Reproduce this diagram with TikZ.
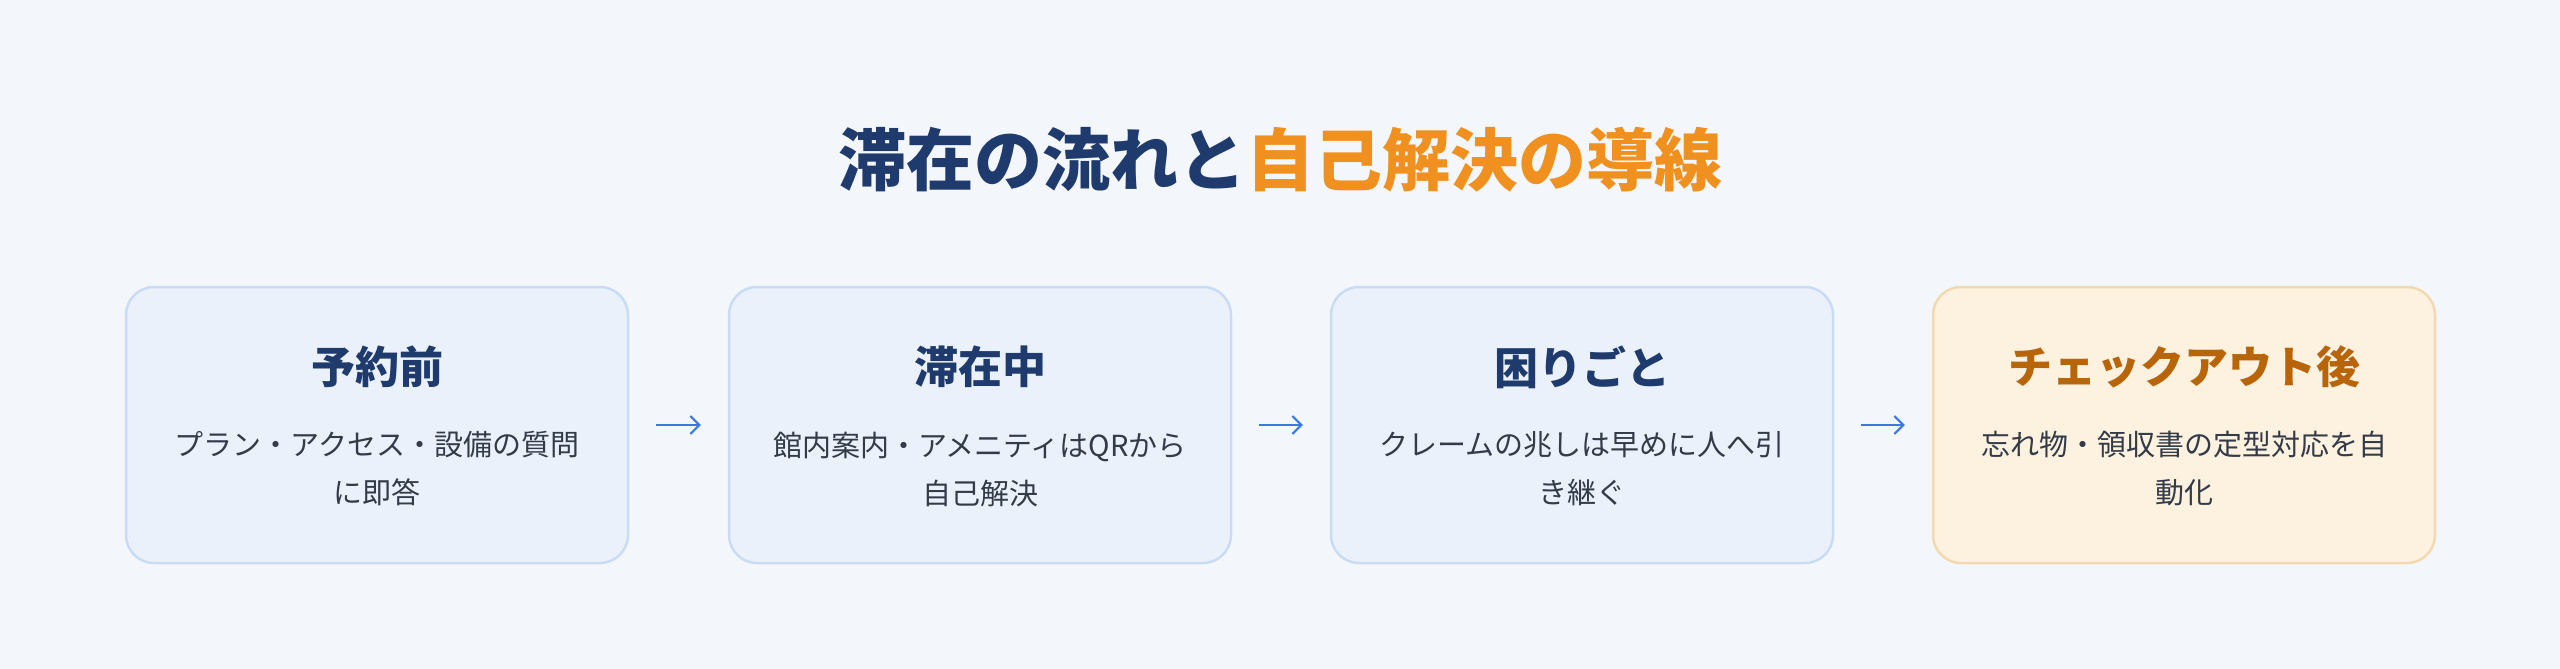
\documentclass[tikz,border=0pt]{standalone}
\usepackage{fontspec}
\setmainfont{Noto Sans CJK JP}
\usetikzlibrary{arrows.meta}
\definecolor{bgcol}{HTML}{F3F7FB}
\definecolor{navy}{HTML}{1F3B6E}
\definecolor{accent}{HTML}{F0901E}
\definecolor{boxfill}{HTML}{EAF1FB}
\definecolor{boxline}{HTML}{C9DCF3}
\definecolor{warmfill}{HTML}{FDF1E0}
\definecolor{warmline}{HTML}{F3D9B0}
\definecolor{warmtext}{HTML}{B8650A}
\definecolor{bodytext}{HTML}{333B48}
\definecolor{arrowcol}{HTML}{3B78E0}
\begin{document}
\begin{tikzpicture}[x=1pt,y=-1pt]

        \fill[bgcol] (0,0) rectangle (2560,669);
        \useasboundingbox (0,0) rectangle (2560,669);

        \node (title) at (1280,160) {\fontsize{68}{74}\selectfont\bfseries
          \textcolor{navy}{滞在の流れと}\textcolor{accent}{自己解決の導線}};

        \begin{scope}[every node/.style={draw=boxline, fill=boxfill, line width=2.5pt,
            rounded corners=28pt, minimum width=502pt, minimum height=276pt}]
          \node (b1) at (377,425)  {};
          \node (b2) at (980,425)  {};
          \node (b3) at (1582,425) {};
          \node[draw=warmline, fill=warmfill] (b4) at (2184,425) {};
        \end{scope}

        \begin{scope}[every node/.style={text=navy, font=\fontsize{44}{50}\selectfont\bfseries}]
          \node (h1) at (377,367)  {予約前};
          \node (h2) at (980,367)  {滞在中};
          \node (h3) at (1582,367) {困りごと};
          \node[text=warmtext] (h4) at (2184,367) {チェックアウト後};
        \end{scope}

        \begin{scope}[every node/.style={text=bodytext, align=center,
            font=\fontsize{29}{48}\selectfont}]
          \node (t1) at (377,469)  {プラン・アクセス・設備の質問\\に即答};
          \node (t2) at (980,469)  {館内案内・アメニティはQRから\\自己解決};
          \node (t3) at (1582,469) {クレームの兆しは早めに人へ引\\き継ぐ};
          \node (t4) at (2184,469) {忘れ物・領収書の定型対応を自\\動化};
        \end{scope}

        \begin{scope}[every path/.style={draw=arrowcol, line width=2pt,
            -{Straight Barb[length=9pt,width=18pt]}, shorten <=27pt, shorten >=27pt}]
          \path (b1.east) -- (b2.west);
          \path (b2.east) -- (b3.west);
          \path (b3.east) -- (b4.west);
        \end{scope}

      \end{tikzpicture}
\end{document}
